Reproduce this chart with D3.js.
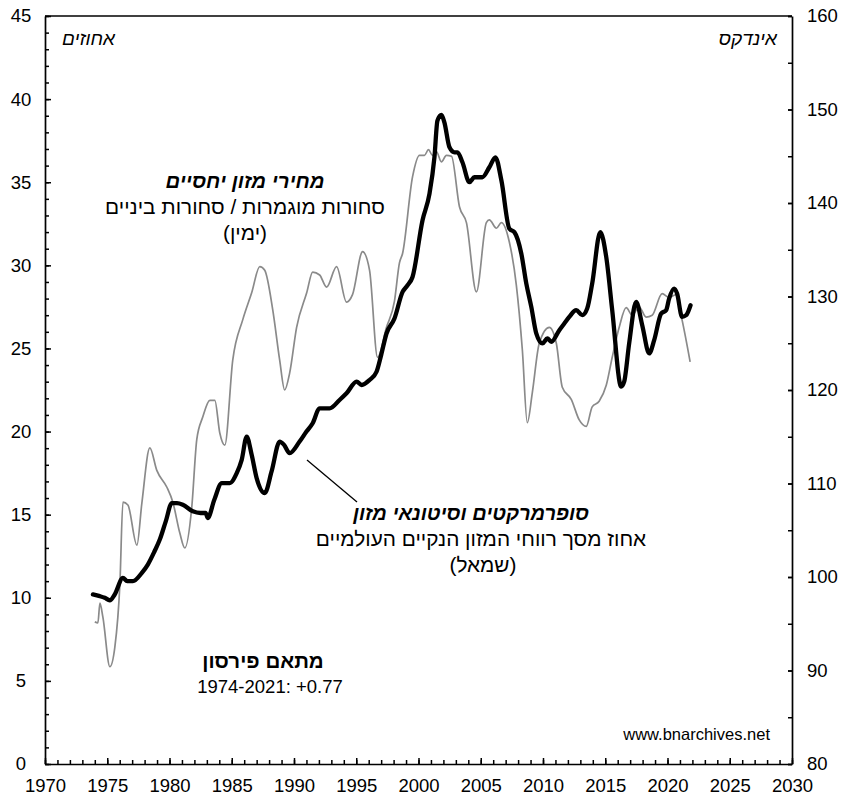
<!DOCTYPE html>
<html>
<head>
<meta charset="utf-8">
<script src="https://cdn.jsdelivr.net/npm/d3@7"></script>
<style>
  html, body { margin: 0; padding: 0; background: #fff; }
  svg { display: block; font-family: "Liberation Sans", Arial, sans-serif; }
</style>
</head>
<body>
<svg id="chart" width="843" height="796"></svg>
<script>
// Supermarkets & food wholesalers: % of world net food profits (left axis)
const supermarketShare = [
  [1973.85,10.2],[1974.4,10.1],[1974.8,10.0],[1975.2,9.85],[1975.6,10.2],[1976.26,11.2],[1976.6,11.0],[1977.06,11.0],
  [1977.78,11.5],[1978.26,12.0],[1978.8,12.8],[1979.22,13.5],[1979.7,14.6],[1980.19,15.7],[1980.6,15.7],[1981.07,15.6],
  [1981.87,15.2],[1982.5,15.1],[1982.9,15.1],[1983.07,14.8],[1983.6,15.9],[1984.2,16.9],[1984.84,16.9],[1985.4,17.5],
  [1985.8,18.3],[1986.2,19.7],[1986.6,18.6],[1987.0,17.2],[1987.65,16.3],[1988.2,17.6],[1988.85,19.4],[1989.2,19.2],
  [1989.65,18.7],[1990.45,19.4],[1991.0,20.0],[1991.5,20.5],[1992.06,21.4],[1992.86,21.4],[1993.66,21.9],[1994.22,22.3],
  [1995.03,23.0],[1995.43,22.8],[1996.07,23.1],[1996.63,23.6],[1997.0,24.6],[1997.43,25.9],[1998.07,26.8],[1998.72,28.4],
  [1999.12,28.8],[1999.52,29.3],[2000.32,32.7],[2000.88,34.3],[2001.28,36.5],[2001.52,38.7],[2001.84,39.05],[2002.08,38.6],
  [2002.49,37.1],[2002.89,36.8],[2003.13,36.8],[2003.53,36.2],[2004.09,35.0],[2004.49,35.3],[2005.13,35.3],[2005.69,35.9],
  [2006.18,36.5],[2006.66,35.1],[2007.3,32.2],[2007.7,32.0],[2008.26,30.7],[2008.66,28.9],[2009.06,27.5],[2009.46,25.9],
  [2009.95,25.3],[2010.35,25.6],[2010.67,25.4],[2011.31,26.1],[2011.71,26.5],[2012.11,26.9],[2012.67,27.3],[2013.15,27.0],
  [2013.55,27.4],[2013.95,28.9],[2014.6,32.0],[2015.08,30.5],[2015.56,27.3],[2016.28,22.7],[2016.52,23.0],[2016.92,25.3],
  [2017.48,27.8],[2017.97,26.4],[2018.53,24.7],[2018.93,25.5],[2019.49,27.1],[2019.89,27.3],[2020.13,28.0],[2020.53,28.6],
  [2020.77,28.3],[2021.17,26.9],[2021.5,27.0],[2021.85,27.6]
];

// Relative food prices: finished goods / intermediate goods index (right axis)
const relativePrices = [
  [1974.0,95.2],[1974.25,95.1],[1974.41,97.2],[1974.65,95.7],[1975.21,90.4],[1975.61,92.5],[1976.02,99.4],[1976.26,108.0],
  [1976.66,107.7],[1977.38,103.4],[1977.78,107.9],[1978.42,113.8],[1978.98,111.4],[1979.79,109.6],[1980.27,108.0],[1980.83,104.7],
  [1981.23,103.1],[1981.79,107.5],[1982.19,114.7],[1982.67,117.1],[1983.24,118.9],[1983.64,118.9],[1984.04,115.4],[1984.44,114.1],
  [1985.08,123.2],[1985.88,127.5],[1986.6,130.4],[1987.25,133.2],[1987.65,132.8],[1988.29,128.6],[1988.85,123.2],[1989.25,120.0],
  [1989.65,121.8],[1990.21,126.7],[1991.02,130.4],[1991.5,132.6],[1992.06,132.3],[1992.62,131.0],[1993.42,133.2],[1994.22,129.4],
  [1994.7,130.2],[1995.51,134.8],[1996.07,132.8],[1996.71,123.5],[1997.43,126.7],[1998.07,129.5],[1998.47,133.6],[1998.72,134.6],
  [1999.52,142.8],[2000.08,145.1],[2000.48,145.1],[2000.8,145.7],[2001.12,145.1],[2001.44,145.5],[2001.84,144.4],[2002.24,145.1],
  [2002.65,145.0],[2003.29,139.6],[2003.85,137.9],[2004.65,130.5],[2005.45,137.9],[2005.69,138.2],[2006.26,137.3],[2006.66,137.9],
  [2007.3,135.8],[2007.86,131.2],[2008.34,124.3],[2008.74,116.5],[2009.14,119.7],[2009.7,125.0],[2010.51,126.7],[2011.07,125.0],
  [2011.55,120.3],[2012.27,119.0],[2012.91,116.8],[2013.47,116.1],[2013.95,118.2],[2014.51,118.8],[2015.08,120.5],[2015.56,123.5],
  [2016.12,126.7],[2016.68,128.8],[2017.16,128.0],[2017.72,128.9],[2018.28,127.8],[2018.77,128.0],[2019.57,130.3],[2020.13,129.9],
  [2020.69,130.2],[2021.17,127.5],[2021.82,123.0]
];

const xTicks = [1970,1975,1980,1985,1990,1995,2000,2005,2010,2015,2020,2025,2030];
const leftTicks = [0,5,10,15,20,25,30,35,40,45];
const rightTicks = [80,90,100,110,120,130,140,150,160];

const svg = d3.select("#chart");
const L = 45, R = 792, T = 16, B = 764;

const x = d3.scaleLinear().domain([1970, 2030]).range([L, R]);
const yL = d3.scaleLinear().domain([0, 45]).range([B, T]);
const yR = d3.scaleLinear().domain([80, 160]).range([B, T]);

const axisColor = "#000";
const fontSize = 18.5;

// minor ticks
svg.append("g").attr("transform", `translate(${L},0)`)
  .call(d3.axisLeft(yL).tickValues(d3.range(0, 46, 1)).tickSizeInner(-4).tickSizeOuter(0).tickFormat(""))
  .call(g => g.select(".domain").remove());
svg.append("g").attr("transform", `translate(0,${B})`)
  .call(d3.axisBottom(x).tickValues(d3.range(1970, 2031, 1)).tickSizeInner(-4).tickSizeOuter(0).tickFormat(""))
  .call(g => g.select(".domain").remove());
svg.append("g").attr("transform", `translate(${R},0)`)
  .call(d3.axisRight(yR).tickValues(d3.range(80, 161, 5)).tickSizeInner(-4).tickSizeOuter(0).tickFormat(""))
  .call(g => g.select(".domain").remove());

// major axes
const gL = svg.append("g").attr("transform", `translate(${L},0)`)
  .call(d3.axisLeft(yL).tickValues(leftTicks).tickSizeInner(-6).tickSizeOuter(0).tickPadding(24));
gL.selectAll("text").attr("text-anchor", "middle").attr("x", -24);

const gB = svg.append("g").attr("transform", `translate(0,${B})`)
  .call(d3.axisBottom(x).tickValues(xTicks).tickSizeInner(-6).tickSizeOuter(0).tickPadding(15).tickFormat(d3.format("d")));

const gR = svg.append("g").attr("transform", `translate(${R},0)`)
  .call(d3.axisRight(yR).tickValues(rightTicks).tickSizeInner(-4).tickSizeOuter(0).tickPadding(15));

svg.selectAll(".tick line").attr("stroke", axisColor).attr("stroke-width", 1.5);
svg.selectAll(".domain").attr("stroke", axisColor).attr("stroke-width", 1.7);
svg.selectAll(".tick text").attr("font-size", fontSize).attr("fill", "#000")
  .attr("font-family", "'Liberation Sans', Arial, sans-serif");

// top frame line
svg.append("line").attr("x1", L).attr("x2", R).attr("y1", T).attr("y2", T)
  .attr("stroke", axisColor).attr("stroke-width", 1.7);

// series
const lineR = d3.line().x(d => x(d[0])).y(d => yR(d[1])).curve(d3.curveMonotoneX);
const lineL = d3.line().x(d => x(d[0])).y(d => yL(d[1])).curve(d3.curveMonotoneX);

svg.append("path").datum(relativePrices).attr("d", lineR)
  .attr("fill", "none").attr("stroke", "#8a8a8a").attr("stroke-width", 1.7)
  .attr("stroke-linejoin", "round");
svg.append("path").datum(supermarketShare).attr("d", lineL)
  .attr("fill", "none").attr("stroke", "#000").attr("stroke-width", 4.3)
  .attr("stroke-linejoin", "round").attr("stroke-linecap", "round");

// annotations
function txt(s, xx, yy, opts = {}) {
  return svg.append("text").attr("x", xx).attr("y", yy)
    .attr("text-anchor", opts.anchor || "middle")
    .attr("font-size", opts.size || fontSize)
    .attr("font-weight", opts.weight || "normal")
    .attr("font-style", opts.style || "normal")
    .attr("fill", "#000")
    .text(s);
}

txt("אחוזים", 115, 45, {anchor: "end", size: 19, style: "italic"});
txt("אינדקס", 777, 45, {anchor: "end", size: 19, style: "italic"});

txt("מחירי מזון יחסיים", 245, 188, {size: 20.3, weight: "bold", style: "italic"});
txt("סחורות מוגמרות / סחורות ביניים", 245, 214, {size: 20.8});
txt("(ימין)", 245, 240, {size: 20.8});

txt("סופרמרקטים וסיטונאי מזון", 471, 520, {size: 20, weight: "bold", style: "italic"});
txt("אחוז מסך רווחי המזון הנקיים העולמיים", 481, 546, {size: 20.8});
txt("(שמאל)", 483, 572, {size: 20.8});

svg.append("line").attr("x1", 307).attr("y1", 460).attr("x2", 357).attr("y2", 502)
  .attr("stroke", "#000").attr("stroke-width", 1.3);

txt("מתאם פירסון", 263, 668, {size: 20.5, weight: "bold"});
txt("1974-2021: +0.77", 270, 693, {size: 18.5});

txt("www.bnarchives.net", 770, 740, {anchor: "end", size: 16.5});
</script>
</body>
</html>
